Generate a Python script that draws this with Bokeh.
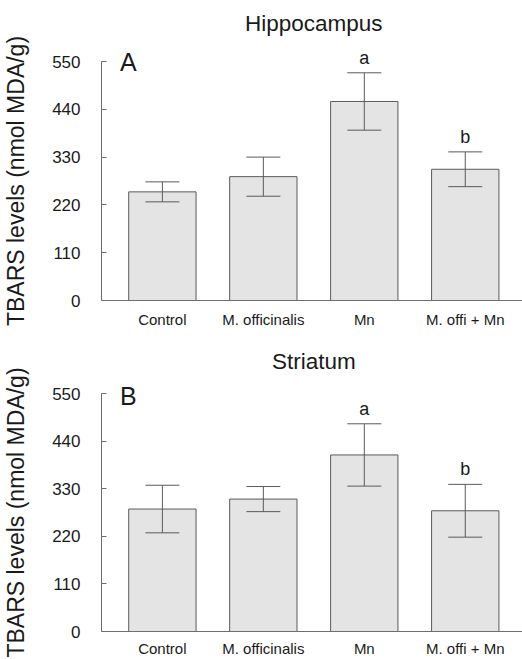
from bokeh.plotting import figure
from bokeh.layouts import column
from bokeh.models import Range1d, FixedTicker, Whisker, TeeHead, ColumnDataSource
from bokeh.core.properties import value
from bokeh.embed import file_html
from bokeh.resources import INLINE

# ---- data ----
categories = ["Control", "M. officinalis", "Mn", "M. offi + Mn"]
hippo_mean = [250, 285, 458, 302]
hippo_err = [23, 45, 66, 40]
hippo_sig = ["", "", "a", "b"]
striatum_mean = [283, 306, 408, 279]
striatum_err = [55, 29, 72, 61]
striatum_sig = ["", "", "a", "b"]
y_ticks = [0, 110, 220, 330, 440, 550]
panel_titles = ["Hippocampus", "Striatum"]
panel_letters = ["A", "B"]

FONT = value("Liberation Sans")
TXT = "#1a1a1a"
AX = "#6e6e6e"
BAR_FILL = "#e4e4e4"
BAR_LINE = "#5a5a5a"


def make_panel(means, errs, sig, title, letter, height, title_y, letter_y,
               border_top, border_bottom, label_standoff):
    xs = list(range(len(categories)))
    upper = [m + e for m, e in zip(means, errs)]
    lower = [m - e for m, e in zip(means, errs)]
    src = ColumnDataSource(dict(x=xs, mean=means, upper=upper, lower=lower, sig=sig))

    p = figure(width=522, height=height,
               x_range=Range1d(-0.603, 3.567), y_range=Range1d(0, y_ticks[-1]),
               output_backend="svg", toolbar_location=None,
               min_border_left=97, min_border_right=0, min_border_top=border_top,
               min_border_bottom=border_bottom)
    p.xgrid.visible = False
    p.ygrid.visible = False
    p.outline_line_color = None
    p.background_fill_color = "white"
    p.border_fill_color = "white"

    p.vbar(x="x", top="mean", bottom=0, width=0.667, source=src,
           fill_color=BAR_FILL, line_color=BAR_LINE, line_width=1)

    w = Whisker(source=src, base="x", upper="upper", lower="lower",
                line_color=BAR_LINE, line_width=1,
                upper_head=TeeHead(size=34, line_color=BAR_LINE, line_width=1),
                lower_head=TeeHead(size=34, line_color=BAR_LINE, line_width=1),
                level="annotation")
    p.add_layout(w)

    # significance letters above the error bars
    sx = [x for x, s in zip(xs, sig) if s]
    sy = [u for u, s in zip(upper, sig) if s]
    st = [s for s in sig if s]
    p.text(x=sx, y=sy, text=st, text_font=FONT, text_font_size="18px",
           text_color=TXT, text_align="center", text_baseline="bottom", y_offset=-5,
           level="overlay")

    # panel title and letter (drawn above the frame, unclipped)
    p.text(x=[1.5], y=[title_y], text=[title], text_font=FONT, text_font_size="22.5px",
           text_color=TXT, text_align="center", text_baseline="middle", level="overlay")
    p.text(x=[-0.42], y=[letter_y], text=[letter], text_font=FONT, text_font_size="25px",
           text_color=TXT, text_align="left", text_baseline="middle", level="overlay")

    # y axis
    ya = p.yaxis[0]
    ya.ticker = FixedTicker(ticks=y_ticks)
    ya.major_tick_in = 5
    ya.major_tick_out = 0
    ya.minor_tick_in = 0
    ya.minor_tick_out = 0
    ya.axis_line_color = AX
    ya.major_tick_line_color = AX
    ya.major_label_text_font = "Liberation Sans"
    ya.major_label_text_font_size = "17px"
    ya.major_label_text_color = TXT
    ya.major_label_standoff = 21
    ya.axis_label = "TBARS levels (nmol MDA/g)"
    ya.axis_label_text_font = "Liberation Sans"
    ya.axis_label_text_font_size = "23px"
    ya.axis_label_text_font_style = "normal"
    ya.axis_label_text_color = TXT
    ya.axis_label_standoff = 20

    # x axis
    xa = p.xaxis[0]
    xa.ticker = FixedTicker(ticks=xs)
    xa.major_label_overrides = {i: c for i, c in enumerate(categories)}
    xa.major_tick_in = 0
    xa.major_tick_out = 0
    xa.minor_tick_in = 0
    xa.minor_tick_out = 0
    xa.axis_line_color = AX
    xa.major_label_text_font = "Liberation Sans"
    xa.major_label_text_font_size = "15px"
    xa.major_label_text_color = TXT
    xa.major_label_standoff = label_standoff
    return p


p1 = make_panel(hippo_mean, hippo_err, hippo_sig, panel_titles[0], panel_letters[0],
                height=330, title_y=637, letter_y=549,
                border_top=61, border_bottom=28, label_standoff=10)
p2 = make_panel(striatum_mean, striatum_err, striatum_sig, panel_titles[1], panel_letters[1],
                height=329, title_y=623, letter_y=545,
                border_top=63, border_bottom=25, label_standoff=8)

layout = column(p1, p2, spacing=0)
open("out.html", "w").write(file_html(layout, INLINE))
